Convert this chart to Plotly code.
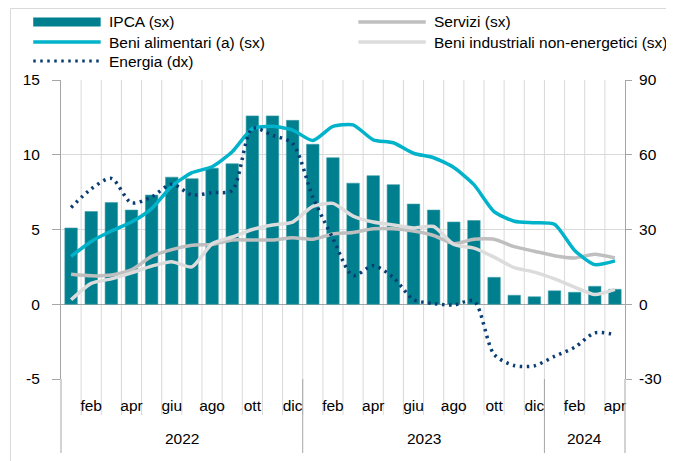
import plotly.graph_objects as go

# ---------------- data ----------------
months_it = ["gen", "feb", "mar", "apr", "mag", "giu", "lug", "ago", "set", "ott", "nov", "dic"]
years = ["2022", "2023", "2024"]
categories = [f"{m} {y}" for y in ["2022", "2023"] for m in months_it] + [f"{m} 2024" for m in months_it[:4]]
month_labels = [c.split()[0] for c in categories]

ipca = [5.1, 6.2, 6.8, 6.3, 7.3, 8.5, 8.4, 9.1, 9.4, 12.6, 12.6, 12.3,
        10.7, 9.8, 8.1, 8.6, 8.0, 6.7, 6.3, 5.5, 5.6, 1.8, 0.6, 0.5,
        0.9, 0.8, 1.2, 1.0]
alimentari = [3.2, 4.2, 4.9, 5.5, 6.4, 7.9, 8.8, 9.2, 10.2, 11.75, 11.9, 11.65,
              10.95, 11.9, 12.0, 11.0, 10.8, 10.1, 9.8, 9.15, 8.0, 6.2, 5.55, 5.45,
              5.35, 3.6, 2.65, 2.9]
servizi = [2.0, 1.9, 1.95, 2.3, 3.2, 3.65, 3.95, 4.0, 4.3, 4.3, 4.3, 4.45,
           4.35, 4.7, 4.8, 5.05, 5.05, 4.9, 4.6, 4.05, 4.35, 4.35, 3.85, 3.55,
           3.25, 3.1, 3.35, 3.1]
industriali = [0.3, 1.4, 1.7, 2.1, 2.55, 2.85, 2.5, 4.05, 4.5, 5.0, 5.3, 5.5,
               6.55, 6.75, 5.9, 5.5, 5.3, 5.1, 5.2, 4.0, 3.75, 3.15, 2.45, 2.15,
               1.7, 1.15, 0.65, 1.0]
energia = [38.8, 46.3, 50.5, 40.7, 43.1, 48.2, 43.9, 44.8, 45.7, 70.6, 67.8, 64.5,
           43.1, 26.4, 11.5, 15.5, 10.7, 1.9, 0.3, -0.3, 1.3, -20.1, -24.6, -24.7,
           -20.9, -17.3, -11.5, -12.2]

left_ticks = [-5, 0, 5, 10, 15]
right_ticks = [-30, 0, 30, 60, 90]

# ---------------- styling ----------------
FONT = "Liberation Sans, Arial, sans-serif"
FS = 15.5
C_BAR = "#00808F"
C_ALIM = "#00B2CA"
C_SERV = "#BFBFBF"
C_IND = "#DCDCDC"
C_EN = "#0A3D73"
GRID = "#D9D9D9"
AXIS = "#A6A6A6"
DOTS = "2.5px,4.5px"

W, H = 674, 461          # browser window
OFF = 8                  # default page body margin
L, R, T, B = 61, 630, 80, 379   # plot area in window pixels


def px(x):
    return (x - L) / (R - L)


def py(y):
    return (B - y) / (B - T)


fig = go.Figure()
fig.add_trace(go.Bar(x=categories, y=ipca, name="IPCA (sx)",
                     marker=dict(color=C_BAR, line=dict(color="#3C9CA7", width=0.6)), showlegend=False))
fig.add_trace(go.Scatter(x=categories, y=servizi, mode="lines", name="Servizi (sx)",
                         line=dict(color=C_SERV, width=3.5, shape="spline", smoothing=0.6), showlegend=False))
fig.add_trace(go.Scatter(x=categories, y=industriali, mode="lines", name="Beni industriali non-energetici (sx)",
                         line=dict(color=C_IND, width=3.5, shape="spline", smoothing=0.6), showlegend=False))
fig.add_trace(go.Scatter(x=categories, y=alimentari, mode="lines", name="Beni alimentari (a) (sx)",
                         line=dict(color=C_ALIM, width=3.5, shape="spline", smoothing=0.6), showlegend=False))
fig.add_trace(go.Scatter(x=categories, y=energia, mode="lines", name="Energia (dx)", yaxis="y2",
                         line=dict(color=C_EN, width=3.5, dash=DOTS, shape="spline", smoothing=0.8),
                         showlegend=False))

shapes = []
n = len(categories)
# vertical month gridlines extending below the plot area
for i in range(n - 1):
    shapes.append(dict(type="line", xref="x", yref="paper", x0=i + 0.5, x1=i + 0.5,
                       y0=py(415), y1=1, line=dict(color=GRID, width=1), layer="below"))
# year separators
year_bounds = [i + 0.5 for i in range(n - 1) if categories[i].split()[1] != categories[i + 1].split()[1]]
for xb in year_bounds:
    shapes.append(dict(type="line", xref="x", yref="paper", x0=xb, x1=xb,
                       y0=py(453), y1=py(379), line=dict(color=AXIS, width=1)))
# axis line extensions
for xp in (0, 1):
    shapes.append(dict(type="line", xref="paper", yref="paper", x0=xp, x1=xp,
                       y0=py(453), y1=py(379), line=dict(color=AXIS, width=1)))
# outer frame
shapes.append(dict(type="line", xref="paper", yref="paper", x0=px(10), x1=px(674), y0=py(8.5), y1=py(8.5),
                   line=dict(color=GRID, width=1)))
shapes.append(dict(type="line", xref="paper", yref="paper", x0=px(10), x1=px(10), y0=py(461), y1=py(8.5),
                   line=dict(color=GRID, width=1)))

# ---------------- legend (manual) ----------------
annotations = []
legend_items = [
    ("IPCA (sx)", "bar", C_BAR, 33, 22),
    ("Beni alimentari (a) (sx)", "line", C_ALIM, 33, 42),
    ("Energia (dx)", "dot", C_EN, 33, 61),
    ("Servizi (sx)", "line", C_SERV, 361, 22),
    ("Beni industriali non-energetici (sx)", "line", C_IND, 361, 42),
]
for label, kind, color, x0, yc in legend_items:
    if kind == "bar":
        shapes.append(dict(type="rect", xref="paper", yref="paper", x0=px(x0), x1=px(x0 + 68),
                           y0=py(yc + 4.5), y1=py(yc - 4.5), fillcolor=color, line=dict(width=0)))
    elif kind == "line":
        shapes.append(dict(type="line", xref="paper", yref="paper", x0=px(x0), x1=px(x0 + 68),
                           y0=py(yc), y1=py(yc), line=dict(color=color, width=3.5)))
    else:
        shapes.append(dict(type="line", xref="paper", yref="paper", x0=px(x0), x1=px(x0 + 68),
                           y0=py(yc), y1=py(yc), line=dict(color=color, width=3, dash=DOTS)))
    annotations.append(dict(text=label, xref="paper", yref="paper", x=px(x0 + 74), y=py(yc),
                            xanchor="left", yanchor="middle", showarrow=False,
                            font=dict(family=FONT, size=FS, color="#000000")))

# year labels
for yname in years:
    idx = [i for i, c in enumerate(categories) if c.endswith(yname)]
    xc = (idx[0] - 0.5 + idx[-1] + 0.5) / 2
    annotations.append(dict(text=yname, xref="x", yref="paper", x=xc, y=py(438),
                            xanchor="center", yanchor="middle", showarrow=False,
                            font=dict(family=FONT, size=FS, color="#000000")))

fig.update_layout(
    width=W - OFF, height=H - OFF,
    margin=dict(l=L - OFF, r=(W - OFF) - (R - OFF), t=T - OFF, b=(H - OFF) - (B - OFF)),
    paper_bgcolor="white", plot_bgcolor="white",
    font=dict(family=FONT, size=FS, color="#000000"),
    bargap=0.38,
    showlegend=False,
    shapes=shapes,
    annotations=annotations,
    xaxis=dict(type="category", categoryorder="array", categoryarray=categories,
               range=[-0.5, n - 0.5], tickmode="array",
               tickvals=categories[1::2], ticktext=month_labels[1::2],
               ticks="", showgrid=False, showline=False, zeroline=False,
               tickfont=dict(size=FS), ticklabelstandoff=15),
    yaxis=dict(range=[-5, 15], tickmode="array", tickvals=left_ticks,
               ticktext=[str(v) for v in left_ticks],
               showgrid=True, gridcolor=GRID, gridwidth=1,
               zeroline=True, zerolinecolor=AXIS, zerolinewidth=1,
               showline=True, linecolor=AXIS, linewidth=1,
               ticks="outside", ticklen=8, tickcolor=AXIS,
               tickfont=dict(size=FS), ticklabelstandoff=9),
    yaxis2=dict(range=[-30, 90], tickmode="array", tickvals=right_ticks,
                ticktext=[str(v) for v in right_ticks],
                overlaying="y", side="right", showgrid=False, zeroline=False,
                showline=True, linecolor=AXIS, linewidth=1,
                ticks="outside", ticklen=6, tickcolor=AXIS,
                tickfont=dict(size=FS), ticklabelstandoff=4),
)

fig.write_html("out.html")
